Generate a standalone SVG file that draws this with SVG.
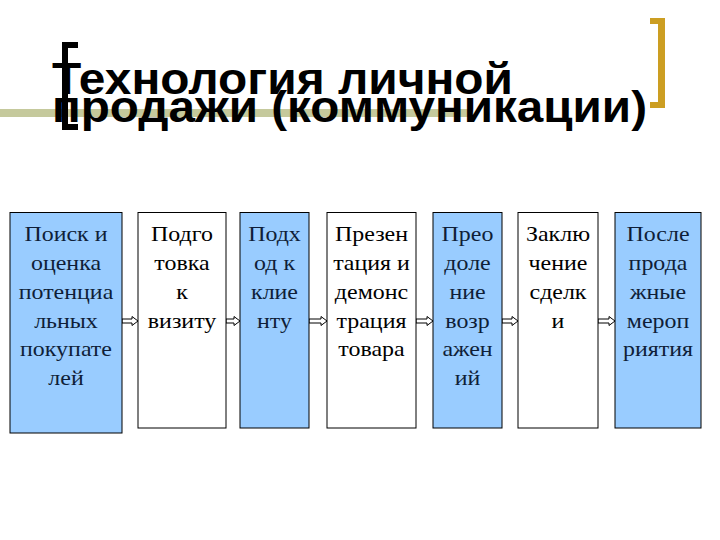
<svg xmlns="http://www.w3.org/2000/svg" width="720" height="540" viewBox="0 0 720 540">
<style>
.bg{fill:#ffffff}
.blue{fill:#99ccff;stroke:#000;stroke-width:1}
.white{fill:#ffffff;stroke:#000;stroke-width:1}
.t{font-family:"Liberation Serif","Times New Roman",serif;font-size:21px;text-anchor:middle}
.tb{fill:#0f1e38}
.tw{fill:#000}
.title{font-family:"Liberation Sans",Arial,sans-serif;font-weight:bold;font-size:44px;fill:#000}
.arr{fill:#ffffff;stroke:#000;stroke-width:1;stroke-linejoin:miter}
</style>
<rect class="bg" x="0" y="0" width="720" height="540"/>
<g id="decor">
<rect x="0" y="109" width="470" height="8" fill="#c5c99c"/>
<path d="M78 42 H62 V130 H78 V124 H68 V48 H78 Z" fill="#000"/>
<path d="M650 18 H665 V108 H650 V102 H658 V24 H650 Z" fill="#cc9e22"/>
</g>
<g id="title">
<text class="title" x="52" y="94" textLength="461" lengthAdjust="spacingAndGlyphs">Технология личной</text>
<text class="title" x="52" y="122" textLength="595" lengthAdjust="spacingAndGlyphs">продажи (коммуникации)</text>
</g>
<g id="connectors">
<path class="arr" d="M122 319 H132 V316.5 L138 321 L132 325.5 V323 H122 Z"/>
<path class="arr" d="M226 319 H234 V316.5 L240 321 L234 325.5 V323 H226 Z"/>
<path class="arr" d="M309 319 H321 V316.5 L327 321 L321 325.5 V323 H309 Z"/>
<path class="arr" d="M416 319 H427 V316.5 L433 321 L427 325.5 V323 H416 Z"/>
<path class="arr" d="M502 319 H512 V316.5 L518 321 L512 325.5 V323 H502 Z"/>
<path class="arr" d="M598 319 H609 V316.5 L615 321 L609 325.5 V323 H598 Z"/>
</g>
<g id="n1">
<rect class="blue" x="10" y="212.5" width="112" height="220.5"/>
<text class="t tb" transform="translate(66 0) scale(1.14 1)"><tspan x="0" y="241.5">Поиск и</tspan><tspan x="0" y="270.2">оценка</tspan><tspan x="0" y="298.9">потенциа</tspan><tspan x="0" y="327.6">льных</tspan><tspan x="0" y="356.3">покупате</tspan><tspan x="0" y="385">лей</tspan></text>
</g>
<g id="n2">
<rect class="white" x="138" y="212.5" width="88" height="215.5"/>
<text class="t tw" transform="translate(182 0) scale(1.14 1)"><tspan x="0" y="241.5">Подго</tspan><tspan x="0" y="270.2">товка</tspan><tspan x="0" y="298.9">к</tspan><tspan x="0" y="327.6">визиту</tspan></text>
</g>
<g id="n3">
<rect class="blue" x="240" y="212.5" width="69" height="215.5"/>
<text class="t tb" transform="translate(274.5 0) scale(1.14 1)"><tspan x="0" y="241.5">Подх</tspan><tspan x="0" y="270.2">од к</tspan><tspan x="0" y="298.9">клие</tspan><tspan x="0" y="327.6">нту</tspan></text>
</g>
<g id="n4">
<rect class="white" x="327" y="212.5" width="89" height="215.5"/>
<text class="t tw" transform="translate(371.5 0) scale(1.14 1)"><tspan x="0" y="241.5">Презен</tspan><tspan x="0" y="270.2">тация и</tspan><tspan x="0" y="298.9">демонс</tspan><tspan x="0" y="327.6">трация</tspan><tspan x="0" y="356.3">товара</tspan></text>
</g>
<g id="n5">
<rect class="blue" x="433" y="212.5" width="69" height="215.5"/>
<text class="t tb" transform="translate(467.5 0) scale(1.14 1)"><tspan x="0" y="241.5">Прео</tspan><tspan x="0" y="270.2">доле</tspan><tspan x="0" y="298.9">ние</tspan><tspan x="0" y="327.6">возр</tspan><tspan x="0" y="356.3">ажен</tspan><tspan x="0" y="385">ий</tspan></text>
</g>
<g id="n6">
<rect class="white" x="518" y="212.5" width="80" height="215.5"/>
<text class="t tw" transform="translate(558 0) scale(1.14 1)"><tspan x="0" y="241.5">Заклю</tspan><tspan x="0" y="270.2">чение</tspan><tspan x="0" y="298.9">сделк</tspan><tspan x="0" y="327.6">и</tspan></text>
</g>
<g id="n7">
<rect class="blue" x="615" y="212.5" width="86" height="215.5"/>
<text class="t tb" transform="translate(658 0) scale(1.14 1)"><tspan x="0" y="241.5">После</tspan><tspan x="0" y="270.2">прода</tspan><tspan x="0" y="298.9">жные</tspan><tspan x="0" y="327.6">мероп</tspan><tspan x="0" y="356.3">риятия</tspan></text>
</g>
</svg>
